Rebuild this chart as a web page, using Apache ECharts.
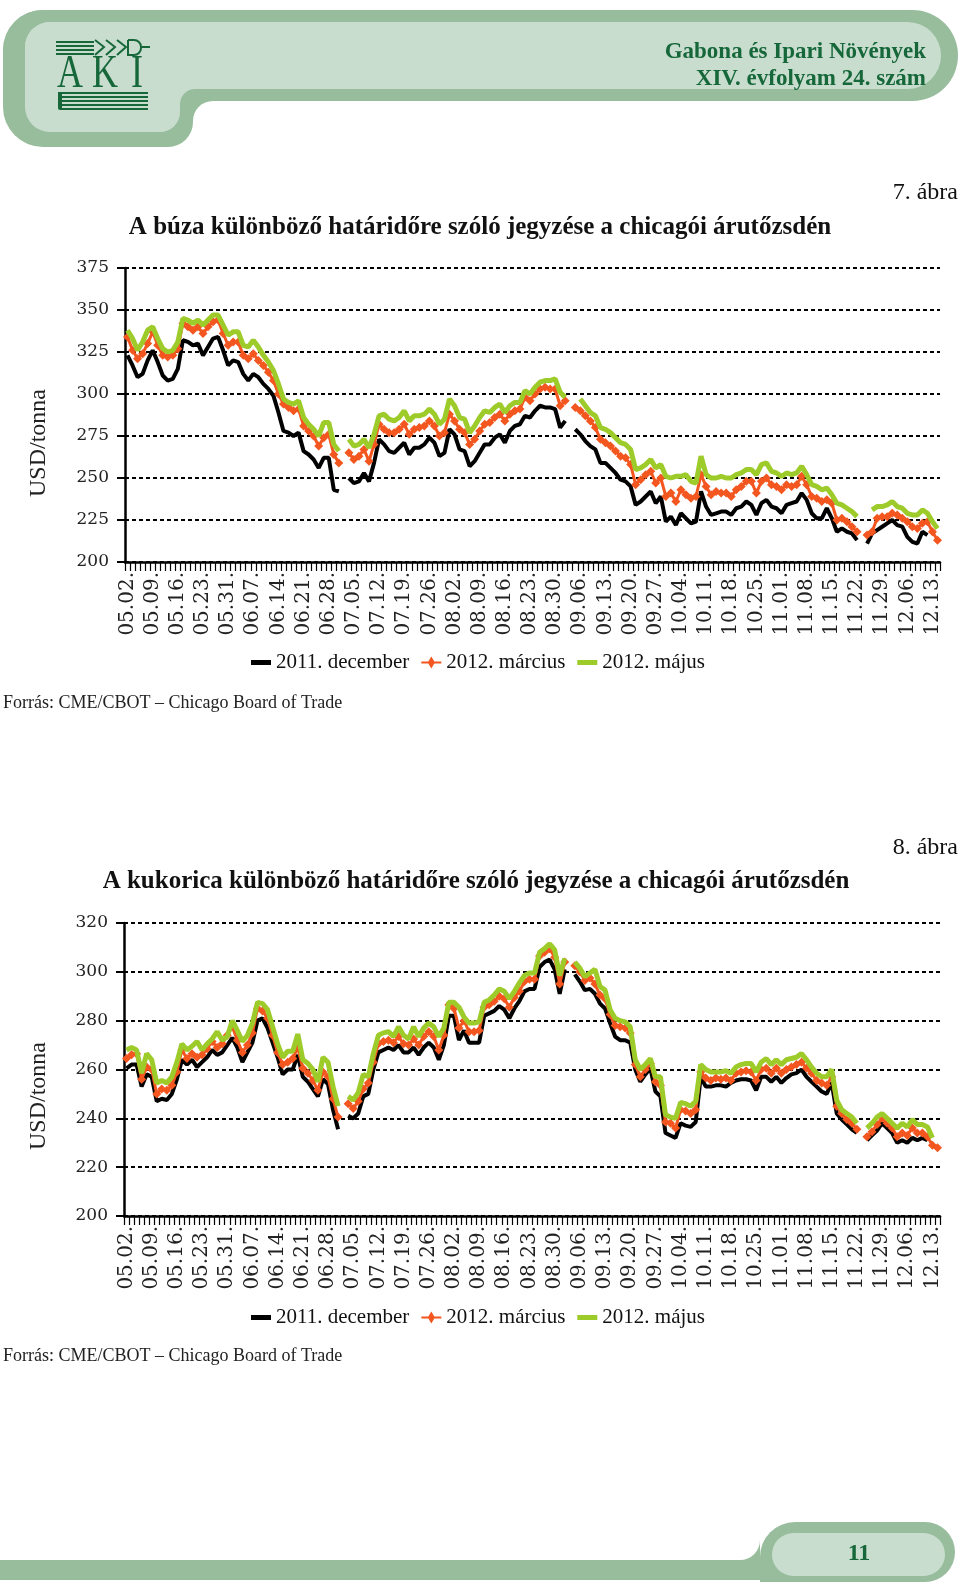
<!DOCTYPE html>
<html><head><meta charset="utf-8">
<script src="https://cdn.jsdelivr.net/npm/echarts@6/dist/echarts.min.js"></script>
<style>html,body{margin:0;padding:0;background:#fff}#c{width:960px;height:1590px}</style>
</head><body><div id="c"></div>
<script>
const tickLabels = ['05.02.','05.09.','05.16.','05.23.','05.31.','06.07.','06.14.','06.21.','06.28.','07.05.','07.12.','07.19.','07.26.','08.02.','08.09.','08.16.','08.23.','08.30.','09.06.','09.13.','09.20.','09.27.','10.04.','10.11.','10.18.','10.25.','11.01.','11.08.','11.15.','11.22.','11.29.','12.06.','12.13.'];
const seriesNames = ['2011. december','2012. március','2012. május'];

const wheatDec = [
323,317,310,312,320,326,319,311,308,309,
315,332,331,329,330,323,328,333,334,326,
317,320,319,312,308,312,310,306,303,299,
289,278,277,275,277,266,264,261,256,262,
262,243,242,null,250,247,248,253,248,259,
273,270,266,265,268,271,264,268,268,270,
274,271,263,265,279,276,267,266,257,260,
265,270,270,274,276,271,278,281,282,287,
286,290,293,292,292,291,280,284,null,279,
276,272,269,267,259,259,256,253,249,248,
245,234,236,239,242,235,239,224,227,222,
229,226,223,224,242,233,228,229,230,230,
228,232,233,236,234,228,235,237,233,232,
229,234,235,236,241,237,229,226,226,232,
226,218,220,218,217,213,null,211,217,219,
221,223,225,222,221,215,212,211,218,216,
null,null];
const wheatMar = [
334,326,321,324,330,337,329,323,322,323,
327,342,340,338,340,336,340,343,344,336,
329,331,331,323,321,324,320,317,313,308,
300,294,292,290,291,281,278,275,269,274,
276,264,259,null,265,261,263,267,260,270,
282,279,277,277,279,282,276,279,280,281,
284,281,275,277,288,284,279,277,270,273,
278,282,283,286,288,284,288,290,291,298,
296,300,303,304,303,303,293,296,null,292,
290,287,284,280,273,271,269,266,263,262,
258,246,249,252,254,247,250,239,241,236,
243,240,238,239,252,245,240,242,241,241,
239,243,245,248,248,241,248,250,246,245,
243,246,245,246,251,246,239,238,236,237,
235,225,226,224,221,218,null,216,218,226,
227,227,229,228,226,224,221,220,223,224,
218,213];
const wheatMay = [
338,333,326,331,338,340,333,327,325,326,
331,345,344,342,344,341,344,347,347,341,
335,337,337,329,328,332,328,323,319,314,
306,297,295,294,296,286,282,279,275,283,
283,270,266,null,273,269,270,273,268,276,
287,288,285,284,286,290,284,287,287,288,
291,288,282,285,297,293,286,285,277,281,
286,290,289,292,294,289,293,295,295,302,
300,304,307,308,308,309,301,298,null,null,
297,293,289,287,280,279,277,274,271,270,
267,255,256,258,261,256,258,251,250,251,
251,252,248,247,263,252,250,250,251,250,
250,252,253,255,255,252,258,259,254,253,
251,253,252,253,257,252,246,245,243,244,
240,235,234,232,230,227,null,null,231,233,
233,234,236,233,232,229,228,228,231,229,
224,220];

const cornDec = [
260.5,262,262,253,258,257,247,248,247.5,250,
256,264,262,264,261,263,265,268,266,267,
270,273,269,263,267,271,280,281,277,271,
265,258,260,260,266,257,255,252,249,256,
254,243.5,235.5,null,241,240,242,249,250,260,
267,268,269,268,270,267,267,269,266,269,
271,269,264,270,282,282,272,276,271,271,
271,282,283,284,286,284.5,281,285,288,292,
293,293,302,304,305,301,291,301,null,299,
296,292.5,293,291,287,285,279,273.5,272,272,
271,260,255,258,260.5,251,249,234,233,232,
238,237,236.5,238.5,257,253,253,253.5,253.5,253,
254.5,255.5,256,256,255.5,251.5,257,257,255,257,
254.5,256.5,258,258.5,260,257,255,253,251,250,
254.5,242,239.5,237.5,235.5,234,null,231,233,235,
238,236,234,230,231,230,232,231,232,231,
null,null];
const cornMar = [
264.5,266,266.5,256,261,260,250,252,251.5,253.5,
259,268,264.5,266.5,265,266,268.5,271.5,269,270.5,
274,277.5,272,267,270,275,285,284,281,274,
267,262,263,264.5,269,260.5,258.5,255.5,251.5,259,
257,248,240.5,null,246,244,247,252,254.5,263,
270.5,271.5,272,271,273.5,270.5,270,272.5,270,273.5,
275.5,273.5,268,274,286.5,285,277,280,275.5,275.5,
276,285.5,286.5,288,290,289,285.5,289.5,292,296,
297,297,306.5,308,309.5,306,295,304,null,302.5,
300,296.5,297.5,295,290.5,289,282.5,278,277.5,277,
275,262,257,260,262.5,255,253.5,238.5,238,236,
243.5,243,242,243.5,259,256.5,255.5,256.5,256,256.5,
255.5,258.5,259,259.5,259,255.5,260,260.5,258.5,260.5,
258.5,260,261,262,263,260.5,258.5,255.5,254.5,253.5,
257,245,242,239.5,238,235.5,null,232.5,234.5,237.5,
240,238,236,232.5,234,233,236,234,234,232.5,
229,228];
const cornMay = [
268,269,268,258.5,266.5,264,254.5,255.5,254.5,257,
263,270.5,268,269.5,271.5,268,270.5,272.5,275.5,272,
273.5,280,276,271.5,274,279,287.5,287,284.5,277.5,
270.5,265,267.5,267.5,274.5,264,262.5,260,255,265,
263,253,245,null,249,247.5,250.5,258,257,266.5,
274,275,275.5,273.5,277.5,274,272.5,277.5,273.5,277,
279,277.5,273.5,277,287.5,287.5,285.5,281.5,279,279,
279.5,287.5,288.5,290.5,293,292,289,292,295.5,298.5,
299.5,299.5,308,309.5,311.5,309,298.5,305.5,null,304,
301.5,298,299.5,301,294,292.5,284.5,281,280,279.5,
277.5,264,260,262,264.5,257,257,241.5,240.5,240,
246.5,246,245,247,262,260,259,259,259,259.5,
258.5,261,262,262.5,262.5,259,263,264.5,262,264,
262,264,264.5,265,266.5,264,261,258.5,257,257,
260,247.5,243.5,242,240.5,238,null,236,238,240.5,
242,240,238,236,238,236.5,239.5,237.5,237.5,236.5,
232,null];

const N = wheatDec.length;
const categories = [];
for (let i = 0; i < N; i++) categories.push(i % 5 === 0 && tickLabels[i / 5] ? tickLabels[i / 5] : '#' + i);

const SERIF = '"Liberation Serif", serif';
const NUMF = '"DejaVu Serif", serif';
const BLACK = '#000000', ORANGE = '#f4561f', GREEN = '#9dcb2a';
const G1 = '#97bd9c', G2 = '#c9ddcf', DG = '#16683a';

function xAxisCfg(gi) {
  return {
    type: 'category', gridIndex: gi, data: categories, boundaryGap: true,
    axisLine: { show: true, lineStyle: { color: '#000', width: 2.5 } },
    axisTick: { show: true, interval: 0, length: 9, lineStyle: { color: '#000', width: 1.2 } },
    axisLabel: { interval: function (i) { return i % 5 === 0; }, rotate: 90, margin: 10,
      fontFamily: NUMF, fontSize: 20, color: '#222' },
    splitLine: { show: false }
  };
}
function yAxisCfg(gi, min, max, step) {
  return {
    type: 'value', gridIndex: gi, min: min, max: max, interval: step,
    axisLine: { show: true, lineStyle: { color: '#000', width: 2.5 } },
    axisTick: { show: true, length: 8, lineStyle: { color: '#000', width: 2 } },
    axisLabel: { margin: 16, fontFamily: NUMF, fontSize: 17, color: '#222' },
    splitLine: { show: true, lineStyle: { color: '#000', width: 2, type: [4, 3] } }
  };
}
function lineSeries(idx, gi, data) {
  const col = [BLACK, ORANGE, GREEN][idx];
  const s = {
    name: seriesNames[idx], type: 'line', xAxisIndex: gi, yAxisIndex: gi, data: data,
    connectNulls: false, animation: false, silent: true, z: 2 + idx,
    lineStyle: { color: col, width: [4, 3, 5][idx] }, itemStyle: { color: col }
  };
  if (idx === 1) { s.symbol = 'diamond'; s.symbolSize = 9; s.showSymbol = true; s.showAllSymbol = true; }
  else { s.symbol = 'none'; }
  return s;
}
const barIcon = 'path://M0,0 L20,0 L20,5 L0,5 Z';
const diamondIcon = 'path://M0,5 L7,5 L10,0 L13,5 L20,5 L20,7 L13,7 L10,12 L7,7 L0,7 Z';
function legendCfg(top) {
  return { left: 246, top: top, itemGap: 12, itemWidth: 20, itemHeight: 12, selectedMode: false,
    textStyle: { fontFamily: SERIF, fontSize: 21, color: '#111' },
    data: [
      { name: seriesNames[0], icon: barIcon },
      { name: seriesNames[1], icon: diamondIcon },
      { name: seriesNames[2], icon: barIcon }
    ] };
}
function txt(text, x, y, font, align, fill, extra) {
  const o = { type: 'text', x: x, y: y, silent: true,
    style: { text: text, font: font, fill: fill || '#111', align: align || 'left', verticalAlign: 'middle' } };
  if (extra) Object.assign(o, extra);
  return o;
}

const graphics = [
  // header outer shape
  { type: 'rect', shape: { x: 3, y: 10, width: 955, height: 91, r: [40, 45.5, 45.5, 0] }, style: { fill: G1 } },
  { type: 'rect', shape: { x: 3, y: 10, width: 190, height: 137, r: [40, 0, 25, 40] }, style: { fill: G1 } },
  { type: 'rect', shape: { x: 193, y: 101, width: 20, height: 20 }, style: { fill: G1 } },
  // header inner
  { type: 'rect', shape: { x: 25, y: 22, width: 916, height: 67, r: [25, 33.5, 33.5, 0] }, style: { fill: G2 } },
  { type: 'rect', shape: { x: 25, y: 22, width: 155, height: 110, r: [25, 0, 20, 25] }, style: { fill: G2 } },
  { type: 'rect', shape: { x: 180, y: 89, width: 15, height: 15 }, style: { fill: G2 } },
  { type: 'circle', shape: { cx: 195, cy: 104, r: 15 }, style: { fill: G1 } },
  { type: 'circle', shape: { cx: 213, cy: 121, r: 20 }, style: { fill: '#fff' } },
  // logo
  { type: 'rect', shape: { x: 56, y: 41, width: 38, height: 2 }, style: { fill: DG } },
  { type: 'rect', shape: { x: 56, y: 45, width: 38, height: 2 }, style: { fill: DG } },
  { type: 'rect', shape: { x: 56, y: 49, width: 38, height: 2 }, style: { fill: DG } },
  { type: 'rect', shape: { x: 56, y: 53, width: 38, height: 2 }, style: { fill: DG } },
  { type: 'polyline', shape: { points: [[95, 40], [104, 47], [95, 55]] }, style: { stroke: DG, lineWidth: 2, fill: null } },
  { type: 'polyline', shape: { points: [[106, 40], [115, 47], [106, 55]] }, style: { stroke: DG, lineWidth: 2, fill: null } },
  { type: 'polyline', shape: { points: [[117, 40], [126, 47], [117, 55]] }, style: { stroke: DG, lineWidth: 2, fill: null } },
  { type: 'rect', shape: { x: 128, y: 40, width: 13, height: 15, r: [0, 7, 7, 0] }, style: { stroke: DG, lineWidth: 2, fill: null } },
  { type: 'rect', shape: { x: 141, y: 46, width: 9, height: 2 }, style: { fill: DG } },
  txt('A', 70, 75, '40px ' + SERIF, 'center', DG, { scaleX: 0.9, scaleY: 1.15 }),
  txt('K', 105, 75, '40px ' + SERIF, 'center', DG, { scaleX: 0.9, scaleY: 1.15 }),
  txt('I', 137, 75, '40px ' + SERIF, 'center', DG, { scaleX: 0.9, scaleY: 1.15 }),
  { type: 'rect', shape: { x: 58, y: 92, width: 90, height: 2 }, style: { fill: DG } },
  { type: 'rect', shape: { x: 62, y: 96, width: 86, height: 2 }, style: { fill: DG } },
  { type: 'rect', shape: { x: 62, y: 100, width: 86, height: 2 }, style: { fill: DG } },
  { type: 'rect', shape: { x: 62, y: 104, width: 86, height: 2 }, style: { fill: DG } },
  { type: 'rect', shape: { x: 62, y: 108, width: 86, height: 2 }, style: { fill: DG } },
  { type: 'rect', shape: { x: 58, y: 92, width: 4, height: 18, r: [2, 0, 0, 2] }, style: { fill: DG } },
  // header text
  txt('Gabona és Ipari Növények', 926, 52, 'bold 23px ' + SERIF, 'right', DG),
  txt('XIV. évfolyam 24. szám', 926, 79, 'bold 23px ' + SERIF, 'right', DG),
  // chart 1 texts
  txt('7. ábra', 958, 193, '24px ' + SERIF, 'right', '#111'),
  txt('A búza különböző határidőre szóló jegyzése a chicagói árutőzsdén', 480, 228, 'bold 25px ' + SERIF, 'center', '#111'),
  txt('USD/tonna', 39, 443, '24px ' + SERIF, 'center', '#222', { rotation: Math.PI / 2 }),
  txt('Forrás: CME/CBOT – Chicago Board of Trade', 3, 703, '18px ' + SERIF, 'left', '#222'),
  // chart 2 texts
  txt('8. ábra', 958, 848, '24px ' + SERIF, 'right', '#111'),
  txt('A kukorica különböző határidőre szóló jegyzése a chicagói árutőzsdén', 476, 882, 'bold 25px ' + SERIF, 'center', '#111'),
  txt('USD/tonna', 39, 1096, '24px ' + SERIF, 'center', '#222', { rotation: Math.PI / 2 }),
  txt('Forrás: CME/CBOT – Chicago Board of Trade', 3, 1356, '18px ' + SERIF, 'left', '#222'),
  // footer
  { type: 'rect', shape: { x: 0, y: 1560, width: 800, height: 20 }, style: { fill: G1 } },
  { type: 'rect', shape: { x: 740, y: 1540, width: 20, height: 20 }, style: { fill: G1 } },
  { type: 'circle', shape: { cx: 740, cy: 1540, r: 20 }, style: { fill: '#fff' } },
  { type: 'rect', shape: { x: 760, y: 1522, width: 195, height: 60, r: [35, 30, 30, 0] }, style: { fill: G1 } },
  { type: 'rect', shape: { x: 772, y: 1533, width: 173, height: 43, r: 21.5 }, style: { fill: G2 } },
  txt('11', 859, 1554, 'bold 24px ' + SERIF, 'center', DG)
];

const chart = echarts.init(document.getElementById('c'), null, { renderer: 'canvas' });
chart.setOption({
  animation: false,
  backgroundColor: '#ffffff',
  grid: [
    { left: 125, top: 268, width: 815, height: 294, containLabel: false },
    { left: 124, top: 923, width: 816, height: 293, containLabel: false }
  ],
  xAxis: [xAxisCfg(0), xAxisCfg(1)],
  yAxis: [yAxisCfg(0, 200, 375, 25), yAxisCfg(1, 200, 320, 20)],
  legend: [legendCfg(647), legendCfg(1302)],
  graphic: { elements: graphics },
  series: [
    lineSeries(0, 0, wheatDec), lineSeries(1, 0, wheatMar), lineSeries(2, 0, wheatMay),
    lineSeries(0, 1, cornDec), lineSeries(1, 1, cornMar), lineSeries(2, 1, cornMay)
  ]
});
</script></body></html>
